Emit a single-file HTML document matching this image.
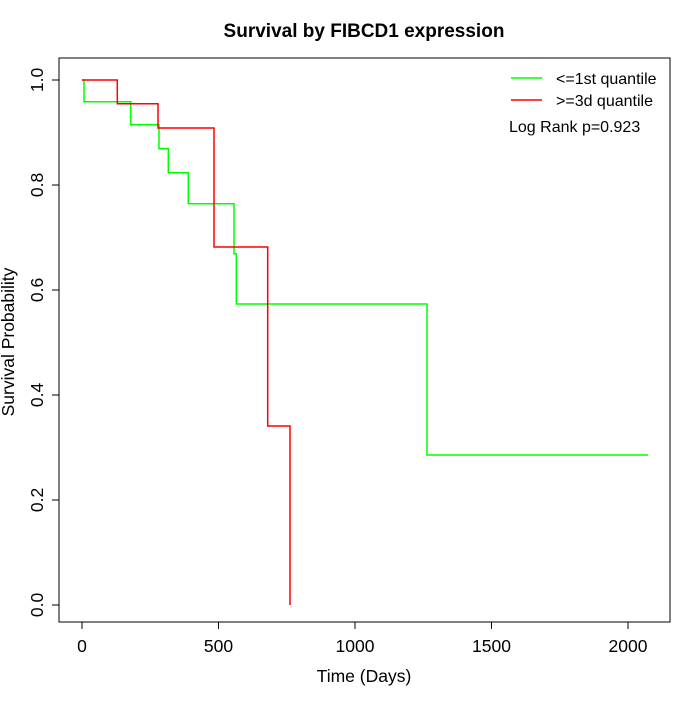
<!DOCTYPE html>
<html><head><style>body{margin:0;background:#fff}</style></head><body>
<svg width="700" height="700" xmlns="http://www.w3.org/2000/svg" font-family="Liberation Sans, sans-serif">
<rect width="700" height="700" fill="#fff"/>
<text x="364" y="37" font-size="19" font-weight="bold" text-anchor="middle">Survival by FIBCD1 expression</text>
<rect x="59" y="58" width="611" height="564" fill="none" stroke="#000" stroke-width="1"/>
<g stroke="#000">
<line x1="82" y1="622" x2="628" y2="622"/>
<line x1="82" y1="622" x2="82" y2="629"/><line x1="218.5" y1="622" x2="218.5" y2="629"/><line x1="355" y1="622" x2="355" y2="629"/><line x1="491.5" y1="622" x2="491.5" y2="629"/><line x1="628" y1="622" x2="628" y2="629"/>
<line x1="59" y1="80" x2="59" y2="605"/>
<line x1="52" y1="80" x2="59" y2="80"/><line x1="52" y1="185" x2="59" y2="185"/><line x1="52" y1="290" x2="59" y2="290"/><line x1="52" y1="395" x2="59" y2="395"/><line x1="52" y1="500" x2="59" y2="500"/><line x1="52" y1="605" x2="59" y2="605"/>
</g>
<g font-size="17.5" text-anchor="middle">
<text x="82" y="652">0</text><text x="218.5" y="652">500</text><text x="355" y="652">1000</text><text x="491.5" y="652">1500</text><text x="628" y="652">2000</text>
<text x="364" y="682">Time (Days)</text>
<g transform="translate(43,0)">
<text transform="translate(0,80) rotate(-90)">1.0</text>
<text transform="translate(0,185) rotate(-90)">0.8</text>
<text transform="translate(0,290) rotate(-90)">0.6</text>
<text transform="translate(0,395) rotate(-90)">0.4</text>
<text transform="translate(0,500) rotate(-90)">0.2</text>
<text transform="translate(0,605) rotate(-90)">0.0</text>
</g>
<text transform="translate(14,342) rotate(-90)">Survival Probability</text>
</g>
<polyline fill="none" stroke="#00ff00" stroke-width="1.5" points="82,80 84,80 84,101.7 130.7,101.7 130.7,124.7 159,124.7 159,148.7 168.3,148.7 168.3,172.7 188.3,172.7 188.3,203.7 234,203.7 234,253.7 236.3,253.7 236.3,304 427,304 427,455 648,455"/>
<polyline fill="none" stroke="#ff0000" stroke-width="1.5" points="82,80 117.3,80 117.3,103.7 158,103.7 158,128 214,128 214,247 267.7,247 267.7,426 290,426 290,605"/>
<line x1="511" y1="78" x2="542" y2="78" stroke="#00ff00" stroke-width="1.5"/>
<line x1="511" y1="100" x2="542" y2="100" stroke="#ff0000" stroke-width="1.5"/>
<g font-size="16"><text x="556" y="84">&lt;=1st quantile</text><text x="556" y="106">&gt;=3d quantile</text><text x="509" y="132">Log Rank p=0.923</text></g>
</svg>
</body></html>
